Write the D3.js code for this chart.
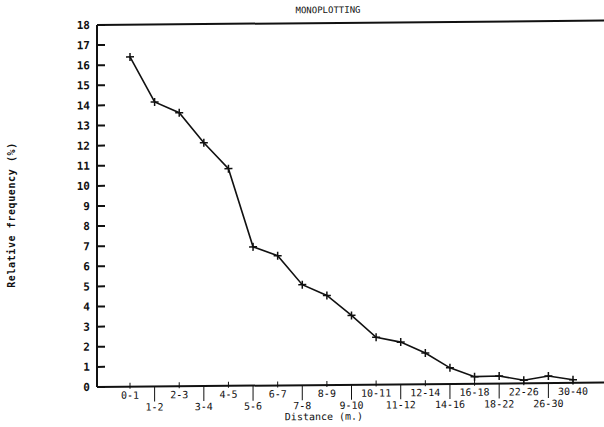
<!DOCTYPE html>
<html>
<head>
<meta charset="utf-8">
<script src="https://cdn.jsdelivr.net/npm/d3@7"></script>
<style>
  body { margin: 0; background: #fff; }
  text { font-family: "DejaVu Sans Mono", monospace; fill: #111; }
</style>
</head>
<body>
<div id="chart"></div>
<script>

// distance classes (m.) and relative frequency (%)
var classes   = ["0-1", "1-2", "2-3", "3-4", "4-5", "5-6", "6-7", "7-8", "8-9", "9-10",
                 "10-11", "11-12", "12-14", "14-16", "16-18", "18-22", "22-26", "26-30", "30-40"]
var frequency = [16.4, 14.15, 13.6, 12.1, 10.8, 6.9, 6.45, 5.0, 4.45, 3.45,
                 2.35, 2.1, 1.55, 0.8, 0.35, 0.37, 0.15, 0.35, 0.15]
var yTicks    = d3.range(0, 19)

var title  = "MONOPLOTTING"
var xTitle = "Distance (m.)"
var yTitle = "Relative frequency (%)"

var W = 604, H = 427
// plot box ("top" is taken by window.top, so use other names)
var plotL = 97, plotR = 604, plotT = 25, plotB = 387

var svg = d3.select("#chart").append("svg")
  .attr("width", W).attr("height", H)

// the scan is a bit skewed, so tilt the whole plot slightly
var g = svg.append("g")
  .attr("transform", "translate(" + plotL + "," + plotB + ") skewY(-0.5) translate(" + (-plotL) + "," + (-plotB) + ")")

var x = d3.scalePoint().domain(classes).range([130, 573])
var y = d3.scaleLinear().domain([0, 18]).range([plotB, plotT])

// title
g.append("text").attr("x", 328).attr("y", 15)
  .attr("text-anchor", "middle").attr("font-size", 9)
  .text(title)

// frame lines: top, left, bottom
g.append("line").attr("x1", plotL).attr("x2", plotR).attr("y1", y(18)).attr("y2", y(18))
  .attr("stroke", "#111").attr("stroke-width", 2)
g.append("line").attr("x1", plotL).attr("x2", plotL).attr("y1", y(18)).attr("y2", y(0))
  .attr("stroke", "#111").attr("stroke-width", 2)
g.append("line").attr("x1", plotL).attr("x2", plotR).attr("y1", y(0)).attr("y2", y(0))
  .attr("stroke", "#111").attr("stroke-width", 2)

// y ticks (inward) and labels
var yt = g.append("g")
yt.selectAll("line").data(yTicks).enter().append("line")
  .attr("x1", plotL).attr("x2", plotL + 8)
  .attr("y1", function(d) { return y(d) }).attr("y2", function(d) { return y(d) })
  .attr("stroke", "#111").attr("stroke-width", 2)
yt.selectAll("text").data(yTicks).enter().append("text")
  .attr("x", 90).attr("y", function(d) { return y(d) })
  .attr("dy", "0.35em").attr("text-anchor", "end")
  .attr("font-size", 11).attr("font-weight", "bold")
  .text(function(d) { return d })

// x ticks: even classes get short ticks, odd ones long ticks with labels on a lower row
var xt = g.append("g")
xt.selectAll("line").data(classes).enter().append("line")
  .attr("x1", function(d) { return x(d) }).attr("x2", function(d) { return x(d) })
  .attr("y1", function(d, i) { return i % 2 ? y(0) : y(0) - 4 })
  .attr("y2", function(d, i) { return i % 2 ? y(0) + 15 : y(0) + 2 })
  .attr("stroke", "#111").attr("stroke-width", 1)
xt.selectAll("text").data(classes).enter().append("text")
  .attr("x", function(d) { return x(d) })
  .attr("y", function(d, i) { return i % 2 ? y(0) + 24 : y(0) + 12 })
  .attr("text-anchor", "middle").attr("font-size", 10)
  .text(function(d) { return d })

// axis titles
g.append("text").attr("x", 324).attr("y", plotB + 35)
  .attr("text-anchor", "middle").attr("font-size", 10)
  .text(xTitle)
svg.append("text")
  .attr("transform", "translate(15,215) rotate(-90)")
  .attr("text-anchor", "middle").attr("font-size", 10).attr("font-weight", "bold")
  .attr("letter-spacing", 0.6)
  .text(yTitle)

// the frequency line
var line = d3.line()
  .x(function(d, i) { return x(classes[i]) })
  .y(function(d) { return y(d) })

g.append("path").datum(frequency)
  .attr("d", line).attr("fill", "none")
  .attr("stroke", "#111").attr("stroke-width", 1.6)

// plus markers
var m = g.append("g").selectAll("g").data(frequency).enter().append("g")
  .attr("transform", function(d, i) { return "translate(" + x(classes[i]) + "," + y(d) + ")" })
m.append("line").attr("x1", -4).attr("x2", 4).attr("stroke", "#111").attr("stroke-width", 1.5)
m.append("line").attr("y1", -4).attr("y2", 4).attr("stroke", "#111").attr("stroke-width", 1.5)

</script>
</body>
</html>
